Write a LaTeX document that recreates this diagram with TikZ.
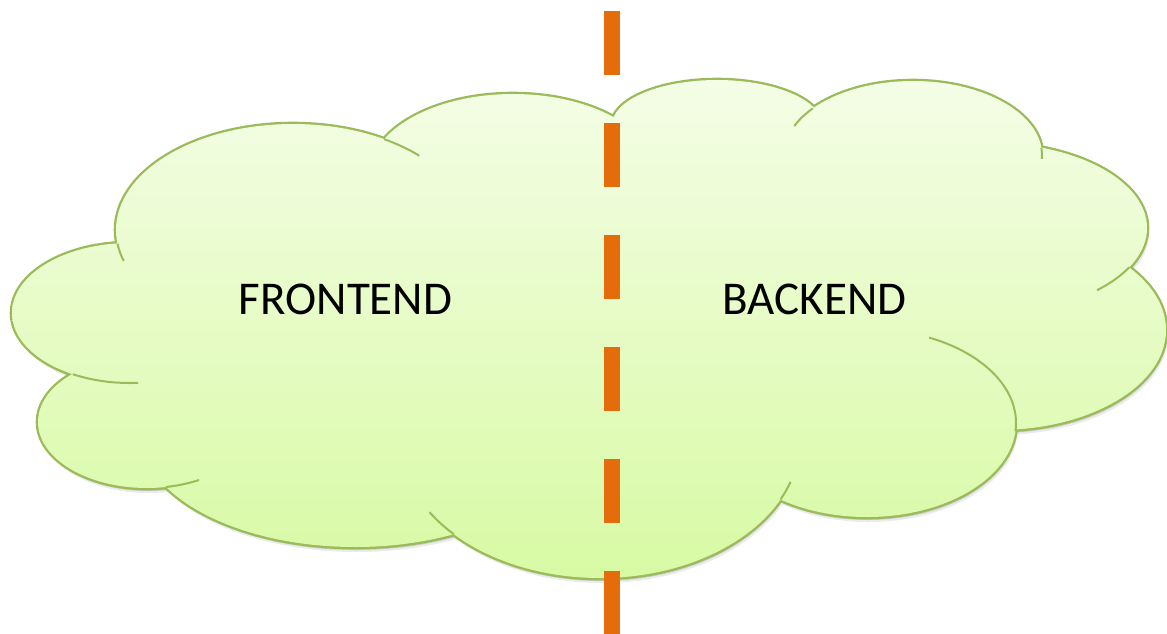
\documentclass[tikz,border=0pt]{standalone}
\usepackage{fontspec}
\setmainfont{Carlito}
\definecolor{cloudline}{HTML}{9BBB59}
\definecolor{cloudtop}{RGB}{244,253,230}
\definecolor{cloudbot}{RGB}{216,250,164}
\definecolor{divider}{HTML}{E46C0A}
\newcommand\lobes{%
  (L1) ellipse[x radius=118,y radius=70]
  (L2) ellipse[x radius=177,y radius=106]
  (L3) ellipse[x radius=143,y radius=80]
  (L4) ellipse[x radius=105,y radius=45]
  (L5) ellipse[x radius=109,y radius=66]
  (L6) ellipse[x radius=215,y radius=115]
  (L7) ellipse[x radius=200,y radius=138]
  (L8) ellipse[x radius=149,y radius=94]
  (L9) ellipse[x radius=168,y radius=100]
  (L10) ellipse[x radius=157,y radius=85]
  (L11) ellipse[x radius=129,y radius=74]}
\newcommand\cloudcore{%
  (J12) -- (J23) -- (J34) -- (J411) -- (J1110) -- (J109) -- (J98) -- (J87) -- (J76) -- (J65) -- (J51) -- cycle}
\begin{document}
\begin{tikzpicture}[x=1pt,y=-1pt,
  outl/.style={draw=cloudline, line width=2pt},
  lbl/.style={font=\fontsize{47}{54}\selectfont, inner sep=0pt, text=black}]
\useasboundingbox (0,0) rectangle (1167,633);
% lobe centres
\coordinate (L1) at (130,313);
\coordinate (L2) at (293,230);
\coordinate (L3) at (513,174);
\coordinate (L4) at (717,125);
\coordinate (L5) at (147,422);
\coordinate (L6) at (355,432);
\coordinate (L7) at (600,440);
\coordinate (L8) at (867,423);
\coordinate (L9) at (998,330);
\coordinate (L10) at (990,228);
\coordinate (L11) at (913,155);
% inner polygon (slightly inside the junctions)
\coordinate (J12) at (125,248);
\coordinate (J23) at (387,146);
\coordinate (J34) at (614,126);
\coordinate (J411) at (812,114);
\coordinate (J1110) at (1034,152);
\coordinate (J109) at (1122,268);
\coordinate (J98) at (1010,424);
\coordinate (J87) at (780,492);
\coordinate (J76) at (455,526);
\coordinate (J65) at (177,484);
\coordinate (J51) at (78,370);
% shadow
\begin{scope}[transform canvas={shift={(2pt,-5pt)}}]
  \fill[black, opacity=0.08] \lobes \cloudcore;
\end{scope}
\begin{scope}[transform canvas={shift={(1pt,-3pt)}}]
  \fill[black, opacity=0.14] \lobes \cloudcore;
\end{scope}
% outer outline (inner half is covered by the fill)
\draw[draw=cloudline, line width=4.6pt] \lobes;
\shade[top color=cloudtop, bottom color=cloudbot] \lobes \cloudcore;
% inner arcs
\draw[outl] (L2) ++(172.5:177 and 106) arc[start angle=172.5,end angle=163,x radius=177,y radius=106];
\draw[outl] (L2) ++(-59:177 and 106) arc[start angle=-59,end angle=-44.5,x radius=177,y radius=106];
\draw[outl] (L1) ++(119:118 and 70) arc[start angle=119,end angle=86,x radius=118,y radius=70];
\draw[outl] (L5) ++(80:109 and 66) arc[start angle=80,end angle=61.5,x radius=109,y radius=66];
\draw[outl] (L7) ++(137:200 and 138) arc[start angle=137,end angle=148.5,x radius=200,y radius=138];
\draw[outl] (L7) ++(25.5:200 and 138) arc[start angle=25.5,end angle=17.7,x radius=200,y radius=138];
\draw[outl] (L8) ++(5:149 and 94) arc[start angle=5,end angle=-65.4,x radius=149,y radius=94];
\draw[outl] (L10) ++(27.5:157 and 85) arc[start angle=27.5,end angle=47,x radius=157,y radius=85];
\draw[outl] (L11) ++(-5.5:129 and 74) arc[start angle=-5.5,end angle=3,x radius=129,y radius=74];
\draw[outl] (L11) ++(219:129 and 74) arc[start angle=219,end angle=203,x radius=129,y radius=74];
% labels
\node[lbl] (fe) at (345.5,299) {FRONTEND};
\node[lbl] (be) at (814.5,299) {BACKEND};
% divider
\coordinate (dtop) at (612,11);
\coordinate (dbot) at (612,640);
\draw[divider, line width=16pt, dash pattern=on 64pt off 48pt] (dtop) -- (dbot);
\end{tikzpicture}
\end{document}
